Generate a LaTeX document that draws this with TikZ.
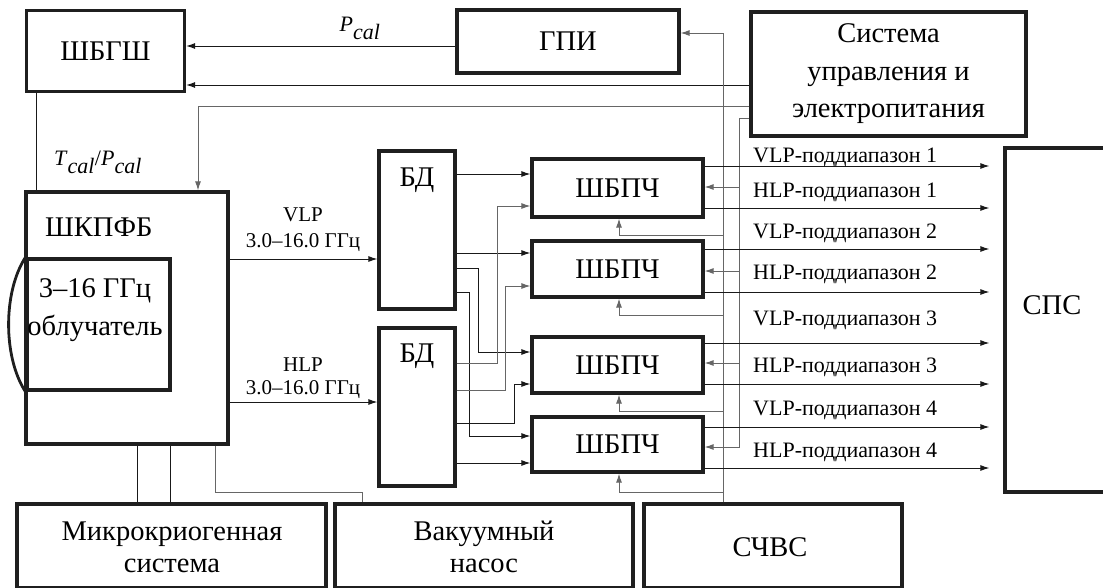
\documentclass[tikz,border=0pt]{standalone}
\usepackage{fontspec}
\setmainfont{Liberation Serif}
\usetikzlibrary{arrows.meta}
\begin{document}
\begin{tikzpicture}[x=1pt,y=-1pt,
  box/.style={draw=black!88, line width=3.2pt, inner sep=0pt},
  conn/.style={line width=1pt, draw=black!90},
  gconn/.style={line width=1pt, draw=black!60},
  arr/.style={-{Latex[length=9pt,width=6pt]}},
  big/.style={font=\fontsize{28.5}{37.5}\selectfont, inner sep=0pt},
  two/.style={font=\fontsize{28.5}{32}\selectfont, inner sep=0pt, align=center},
  lab/.style={font=\fontsize{22}{25}\selectfont, inner sep=0pt},
  sub/.style={font=\fontsize{21}{28}\selectfont, inner sep=0pt},
]
\useasboundingbox (0,0) rectangle (1103,587);

% boxes
\node[box,big,minimum width=158pt,minimum height=81pt] (shbgsh) at (105.5,51) {ШБГШ};
\node[box,big,minimum width=222pt,minimum height=63pt] (gpi) at (568,41.5) {ГПИ};
\node[box,big,align=center,minimum width=275pt,minimum height=124pt] (sys) at (888.5,74) {Система\\управления и\\электропитания};
\node[box,minimum width=202pt,minimum height=252pt] (shkpfb) at (127,318) {};
\node[big,anchor=west] (shkpfbT) at (45,227) {ШКПФБ};
\node[box,minimum width=143pt,minimum height=131pt] (obl) at (98.5,324.5) {};
\node[big,align=center] (oblT) at (95,310) {3–16 ГГц\\облучатель};
\node[box,minimum width=76pt,minimum height=158pt] (bd1) at (417,230) {};
\node[big] (bd1T) at (417,180) {БД};
\node[box,minimum width=76pt,minimum height=158pt] (bd2) at (417,407) {};
\node[big] (bd2T) at (417,356) {БД};
\node[box,big,minimum width=171pt,minimum height=58pt] (p1) at (617.5,188) {ШБПЧ};
\node[box,big,minimum width=171pt,minimum height=56pt] (p2) at (617.5,269) {ШБПЧ};
\node[box,big,minimum width=171pt,minimum height=56pt] (p3) at (617.5,365) {ШБПЧ};
\node[box,big,minimum width=171pt,minimum height=55pt] (p4) at (617.5,444.5) {ШБПЧ};
\node[box,minimum width=102pt,minimum height=344pt] (sps) at (1056,320) {};
\node[big] (spsT) at (1052,305) {СПС};
\node[box,minimum width=309pt,minimum height=84pt] (mk) at (171.5,546) {};
\node[two] (mkT) at (172,547) {Микрокриогенная\\система};
\node[box,minimum width=298pt,minimum height=84pt] (vn) at (484,546) {};
\node[two] (vnT) at (484,547) {Вакуумный\\насос};
\node[box,big,minimum width=258pt,minimum height=84pt] (sch) at (773,546) {};
\node[big] (schT) at (770,547) {СЧВС};

% arc of the feed
\draw[line width=2.8pt, black!88] (obl.north west) .. controls (3,292) and (3,357) .. (obl.south west);

% top connections
\draw[conn,arr] (gpi.west |- 0,46) -- (shbgsh.east |- 0,46);
\node[lab,font=\fontsize{22}{26}\selectfont] (pcal) at (360,28) {\textit{P}$_{\textit{cal}}$};
\draw[conn,arr] (sys.west |- 0,85) -- (shbgsh.east |- 0,85);
\draw[gconn,arr] (sys.west |- 0,106) -| (shkpfb.north -| 198,0);
\draw[conn] (shbgsh.south -| 36,0) -- (shkpfb.north -| 36,0);
\node[lab,font=\fontsize{22}{26}\selectfont] (tcal) at (98,162) {\textit{T}$_{\textit{cal}}$/\textit{P}$_{\textit{cal}}$};

% bus from SChVS
\draw[gconn,arr] (sch.north -| 723,0) |- (gpi.east |- 0,33);
\draw[gconn,arr] (723,235) -| (p1.south -| 619,0);
\draw[gconn,arr] (723,315) -| (p2.south -| 619,0);
\draw[gconn,arr] (723,411) -| (p3.south -| 619,0);
\draw[gconn,arr] (723,492) -| (p4.south -| 619,0);

% bus from control system
\draw[gconn,arr] (sys.west |- 0,118) -| (739,447) -- (p4.east |- 0,447);
\draw[gconn,arr] (739,187) -- (p1.east |- 0,187);
\draw[gconn,arr] (739,271) -- (p2.east |- 0,271);
\draw[gconn,arr] (739,363) -- (p3.east |- 0,363);

% outputs to SPS
\draw[conn,arr,shorten >=14pt] (p1.east |- 0,166) -- (sps.west |- 0,166);
\draw[conn,arr,shorten >=14pt] (p1.east |- 0,208) -- (sps.west |- 0,208);
\draw[conn,arr,shorten >=14pt] (p2.east |- 0,249) -- (sps.west |- 0,249);
\draw[conn,arr,shorten >=14pt] (p2.east |- 0,292) -- (sps.west |- 0,292);
\draw[conn,arr,shorten >=14pt] (p3.east |- 0,343) -- (sps.west |- 0,343);
\draw[conn,arr,shorten >=14pt] (p3.east |- 0,384) -- (sps.west |- 0,384);
\draw[conn,arr,shorten >=14pt] (p4.east |- 0,427) -- (sps.west |- 0,427);
\draw[conn,arr,shorten >=14pt] (p4.east |- 0,468) -- (sps.west |- 0,468);
\node[lab,anchor=base west] (l1) at (753,162) {VLP-поддиапазон 1};
\node[lab,anchor=base west] (l2) at (753,197) {HLP-поддиапазон 1};
\node[lab,anchor=base west] (l3) at (753,238) {VLP-поддиапазон 2};
\node[lab,anchor=base west] (l4) at (753,279) {HLP-поддиапазон 2};
\node[lab,anchor=base west] (l5) at (753,325) {VLP-поддиапазон 3};
\node[lab,anchor=base west] (l6) at (753,372) {HLP-поддиапазон 3};
\node[lab,anchor=base west] (l7) at (753,415) {VLP-поддиапазон 4};
\node[lab,anchor=base west] (l8) at (753,457) {HLP-поддиапазон 4};

% BD outputs
\draw[conn,arr] (bd1.east |- 0,174) -- (p1.west |- 0,174);
\draw[conn,arr] (bd1.east |- 0,253) -- (p2.west |- 0,253);
\draw[conn,arr] (bd1.east |- 0,268) -| (478,352) -- (p3.west |- 0,352);
\draw[conn,arr] (bd1.east |- 0,292) -| (469,436) -- (p4.west |- 0,436);
\draw[gconn,arr] (bd2.east |- 0,363) -| (497,206) -- (p1.west |- 0,206);
\draw[gconn,arr] (bd2.east |- 0,390) -| (505,286) -- (p2.west |- 0,286);
\draw[conn,arr] (bd2.east |- 0,423) -| (514,384) -- (p3.west |- 0,384);
\draw[conn,arr] (bd2.east |- 0,463) -- (p4.west |- 0,463);

% inputs to BD
\draw[conn,arr] (shkpfb.east |- 0,259) -- (bd1.west |- 0,259);
\node[sub] (vlp) at (303,215) {VLP};
\node[sub] (vlpf) at (303,243) {3.0–16.0 ГГц};
\draw[conn,arr] (shkpfb.east |- 0,402) -- (bd2.west |- 0,402);
\node[sub] (hlp) at (303,365) {HLP};
\node[sub] (hlpf) at (303,390) {3.0–16.0 ГГц};

% bottom connections
\draw[conn] (shkpfb.south -| 137,0) -- (mk.north -| 137,0);
\draw[conn] (shkpfb.south -| 170,0) -- (mk.north -| 170,0);
\draw[gconn] (shkpfb.south -| 215,0) |- (362,492) -- (vn.north -| 362,0);
\end{tikzpicture}
\end{document}
